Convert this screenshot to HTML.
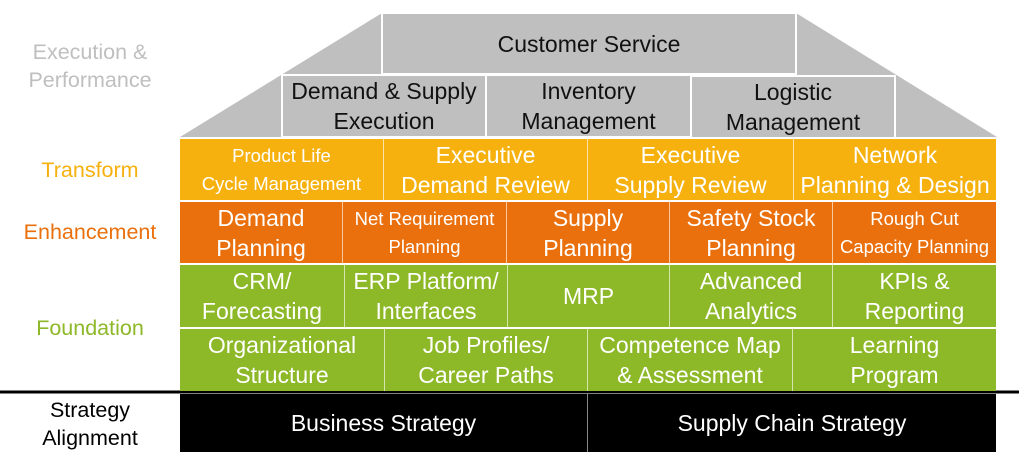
<!DOCTYPE html>
<html><head><style>
body{margin:0;width:1024px;height:466px;background:#fff;position:relative;overflow:hidden;font-family:"Liberation Sans",sans-serif}
.b{position:absolute;display:flex;align-items:center;justify-content:center;text-align:center;box-sizing:border-box;color:#fff;font-size:23px;line-height:30px;white-space:nowrap}
.y{background:#f6b10e;border-right:1px solid #fce4a8}
.o{background:#ea700d;border-right:1px solid #f7c9a0}
.g{background:#8db828;border-right:1px solid #d5e6ad}
.gr{background:#bfbfbf;color:#111;border:2px solid #fff}
.s{font-size:18.5px;line-height:28px}
.l{position:absolute;text-align:center;font-size:21.5px;line-height:28px;width:180px;left:0}
</style></head><body>
<svg style="position:absolute;left:0;top:0" width="1024" height="466">
<polygon points="180,137 382,13 796,13 997,137" fill="#bfbfbf"/>
<line x1="0" y1="392" x2="1019" y2="392" stroke="#000" stroke-width="3"/>
</svg>
<div class="b gr" style="left:381px;top:12px;width:416px;height:63px;color:#111">Customer Service</div>
<div class="b gr" style="left:281px;top:74px;width:206px;height:64px">Demand &amp; Supply<br>Execution</div>
<div class="b gr" style="left:485px;top:74px;width:207px;height:64px">Inventory<br>Management</div>
<div class="b gr" style="left:690px;top:75px;width:206px;height:64px">Logistic<br>Management</div>

<div class="b y s" style="left:180px;top:139px;width:204px;height:61px">Product Life<br>Cycle Management</div>
<div class="b y" style="left:384px;top:139px;width:204px;height:61px">Executive<br>Demand Review</div>
<div class="b y" style="left:588px;top:139px;width:206px;height:61px">Executive<br>Supply Review</div>
<div class="b y" style="left:794px;top:139px;width:202px;height:61px;border:none">Network<br>Planning &amp; Design</div>

<div class="b o" style="left:180px;top:202px;width:163px;height:61px">Demand<br>Planning</div>
<div class="b o s" style="left:343px;top:202px;width:164px;height:61px">Net Requirement<br>Planning</div>
<div class="b o" style="left:507px;top:202px;width:163px;height:61px">Supply<br>Planning</div>
<div class="b o" style="left:670px;top:202px;width:163px;height:61px">Safety Stock<br>Planning</div>
<div class="b o s" style="left:833px;top:202px;width:163px;height:61px;border:none">Rough Cut<br>Capacity Planning</div>

<div class="b g" style="left:180px;top:265px;width:165px;height:62px">CRM/<br>Forecasting</div>
<div class="b g" style="left:345px;top:265px;width:163px;height:62px">ERP Platform/<br>Interfaces</div>
<div class="b g" style="left:508px;top:265px;width:162px;height:62px">MRP</div>
<div class="b g" style="left:670px;top:265px;width:163px;height:62px">Advanced<br>Analytics</div>
<div class="b g" style="left:833px;top:265px;width:163px;height:62px;border:none">KPIs &amp;<br>Reporting</div>

<div class="b g" style="left:180px;top:329px;width:205px;height:62px">Organizational<br>Structure</div>
<div class="b g" style="left:385px;top:329px;width:203px;height:62px">Job Profiles/<br>Career Paths</div>
<div class="b g" style="left:588px;top:329px;width:205px;height:62px">Competence Map<br>&amp; Assessment</div>
<div class="b g" style="left:793px;top:329px;width:203px;height:62px;border:none">Learning<br>Program</div>

<div class="b" style="left:180px;top:394px;width:408px;height:58px;background:#000;border-right:1px solid #888">Business Strategy</div>
<div class="b" style="left:588px;top:394px;width:408px;height:58px;background:#000">Supply Chain Strategy</div>

<div class="l" style="top:38px;color:#bfbfbf">Execution &amp;<br>Performance</div>
<div class="l" style="top:156px;color:#f6b10e">Transform</div>
<div class="l" style="top:218px;color:#ea700d">Enhancement</div>
<div class="l" style="top:314px;color:#8db828">Foundation</div>
<div class="l" style="top:396px;color:#000">Strategy<br>Alignment</div>
</body></html>
